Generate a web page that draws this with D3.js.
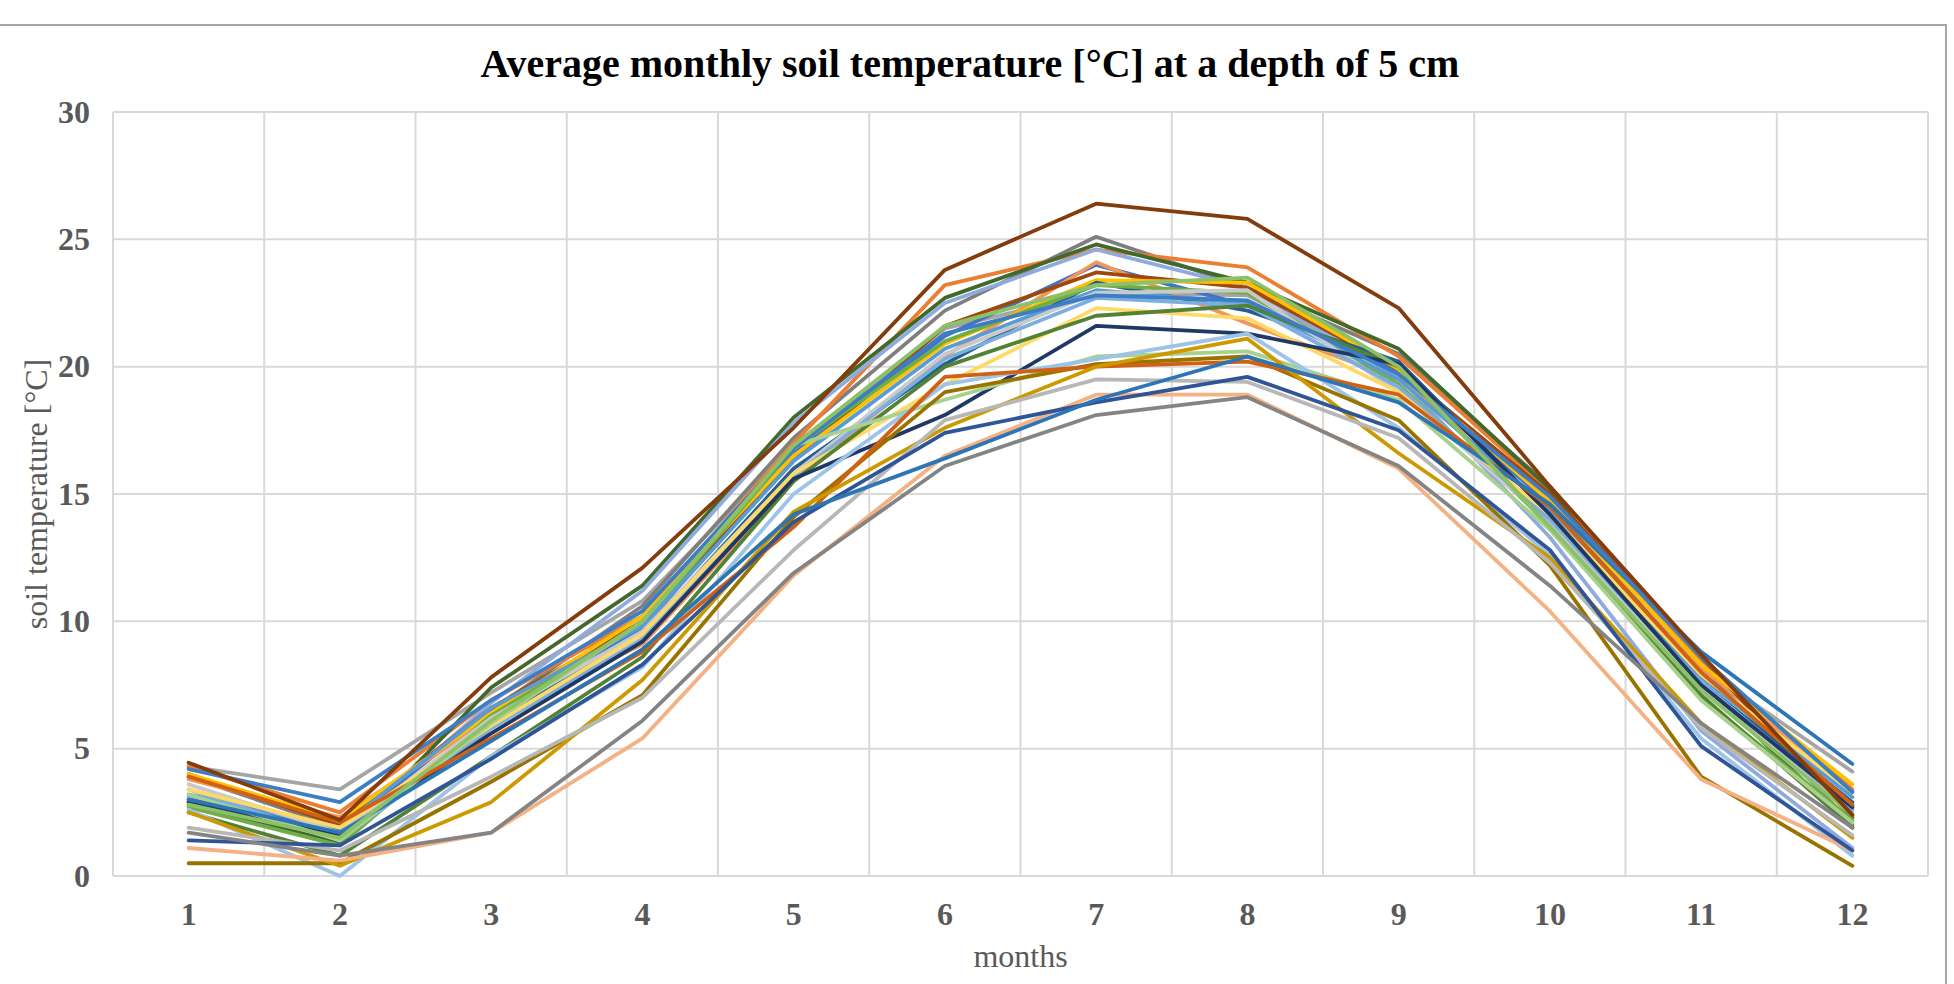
<!DOCTYPE html>
<html>
<head>
<meta charset="utf-8">
<script src="https://cdnjs.cloudflare.com/ajax/libs/d3/7.8.5/d3.min.js"></script>
<style>
  body { margin: 0; background: #fff; }
  svg { display: block; }
</style>
</head>
<body>
<svg id="chart" width="1954" height="984"></svg>
<script>
// months on the x axis
const months = [1, 2, 3, 4, 5, 6, 7, 8, 9, 10, 11, 12];
const yTicks = [0, 5, 10, 15, 20, 25, 30];

// one colour per station line (Excel palette)
const seriesColors = [
  "#A5A5A5", "#7F7F7F", "#ED7D31", "#43682B", "#8FAADC", "#4472C4",
  "#F1975A", "#9E480E", "#FFC000", "#255E91", "#70AD47", "#5B9BD5",
  "#C9C9C9", "#7CAFDD", "#FFD966", "#548235", "#203864", "#A9D18E",
  "#9DC3E6", "#997300", "#D26012", "#CC9A00", "#B7B7B7", "#F4B183",
  "#2F5597", "#848484", "#2E75B6", "#3C7DC4", "#8CC168", "#843C0C"
];

// monthly soil temperature at 5 cm, one array per station
const seriesValues = [
  [4.3, 3.4, 7.2, 10.8, 16.9, 21.5, 22.9, 22.8, 19.8, 15.0, 8.2, 4.1],
  [3.9, 1.9, 6.5, 10.6, 17.2, 22.2, 25.1, 23.1, 20.5, 15.3, 8.3, 2.0],
  [4.3, 2.5, 6.9, 10.2, 17.0, 23.2, 24.6, 23.9, 20.4, 15.1, 8.5, 3.4],
  [2.8, 1.3, 7.4, 11.4, 18.0, 22.7, 24.8, 23.3, 20.7, 15.2, 7.6, 1.9],
  [3.1, 1.6, 6.8, 11.2, 17.8, 22.5, 24.6, 23.1, 19.6, 13.3, 5.7, 1.1],
  [3.0, 1.8, 6.5, 9.7, 16.6, 21.2, 24.0, 22.4, 19.8, 14.6, 8.0, 2.8],
  [3.8, 2.3, 6.2, 9.1, 15.5, 20.4, 24.1, 21.7, 19.5, 14.9, 8.2, 3.3],
  [4.0, 2.0, 6.6, 10.0, 16.3, 21.6, 23.7, 23.1, 19.9, 15.0, 8.6, 2.3],
  [4.0, 2.2, 6.4, 10.2, 16.5, 20.9, 23.4, 23.3, 19.9, 14.7, 8.3, 3.6],
  [2.9, 1.5, 6.0, 9.5, 16.0, 20.1, 23.3, 22.2, 20.2, 14.2, 7.6, 2.9],
  [2.7, 1.2, 6.3, 9.9, 16.8, 21.0, 23.2, 22.9, 19.3, 13.8, 7.0, 2.2],
  [3.2, 1.9, 6.6, 9.8, 16.3, 20.7, 23.0, 22.5, 19.5, 14.4, 7.8, 3.1],
  [3.6, 1.7, 6.2, 9.6, 15.8, 20.5, 22.9, 23.0, 19.0, 13.9, 7.3, 2.5],
  [3.4, 1.4, 5.8, 9.3, 15.7, 20.3, 22.7, 22.4, 19.2, 14.0, 7.6, 2.6],
  [3.4, 1.9, 5.9, 9.5, 15.8, 19.3, 22.3, 21.9, 19.0, 14.2, 7.9, 3.3],
  [2.5, 0.8, 4.7, 8.6, 15.5, 20.0, 22.0, 22.4, 20.0, 13.7, 7.1, 1.9],
  [2.9, 1.6, 5.6, 9.2, 15.6, 18.1, 21.6, 21.3, 20.1, 14.2, 7.5, 2.7],
  [3.2, 1.4, 6.0, 10.0, 16.9, 18.7, 20.4, 20.6, 18.7, 13.6, 6.9, 2.1],
  [2.6, 0.0, 4.7, 8.2, 15.0, 19.3, 20.3, 21.3, 17.6, 12.6, 5.4, 0.8],
  [0.5, 0.5, 3.7, 7.1, 14.1, 19.0, 20.1, 20.4, 17.9, 12.2, 3.9, 0.4],
  [3.9, 2.1, 5.4, 8.8, 13.7, 19.6, 20.0, 20.2, 18.9, 14.5, 8.0, 2.8],
  [2.5, 0.4, 2.9, 7.7, 14.3, 17.6, 20.0, 21.1, 16.6, 12.5, 6.0, 1.5],
  [1.9, 1.0, 3.9, 7.0, 12.8, 17.9, 19.5, 19.4, 17.2, 12.3, 5.8, 1.6],
  [1.1, 0.6, 1.7, 5.4, 11.8, 16.5, 18.9, 18.9, 16.0, 10.4, 3.8, 1.0],
  [1.4, 1.2, 4.6, 8.3, 13.9, 17.4, 18.6, 19.6, 17.5, 12.8, 5.1, 1.0],
  [1.7, 0.8, 1.7, 6.1, 11.9, 16.1, 18.1, 18.8, 16.1, 11.4, 6.0, 1.9],
  [3.0, 1.7, 5.3, 8.9, 14.2, 16.4, 18.7, 20.4, 18.6, 14.6, 8.8, 4.4],
  [4.2, 2.9, 6.9, 10.4, 16.8, 21.3, 22.8, 22.6, 19.7, 14.9, 8.6, 3.3],
  [2.8, 1.5, 6.1, 10.0, 16.9, 21.6, 23.2, 23.5, 20.0, 13.7, 7.3, 2.4],
  [4.45, 2.2, 7.8, 12.1, 17.6, 23.8, 26.4, 25.8, 22.3, 15.3, 8.7, 2.4]
];

const svg = d3.select("#chart");
const margin = { top: 112, right: 26, bottom: 108, left: 113 };
const width = 1954 - margin.left - margin.right;
const height = 984 - margin.top - margin.bottom;

// chart area border (only top and right edges fall inside the picture)
svg.append("rect")
  .attr("x", -10).attr("y", 25)
  .attr("width", 1956).attr("height", 1000)
  .attr("fill", "none")
  .attr("stroke", "#a6a6a6")
  .attr("stroke-width", 2);

const g = svg.append("g").attr("transform", "translate(" + margin.left + "," + margin.top + ")");

const x = d3.scaleBand().domain(months).range([0, width]).padding(0);
const y = d3.scaleLinear().domain([0, 30]).range([height, 0]);
const xc = m => x(m) + x.bandwidth() / 2;

// gridlines
g.append("g").selectAll("line")
  .data(yTicks)
  .enter().append("line")
  .attr("x1", 0).attr("x2", width)
  .attr("y1", d => y(d)).attr("y2", d => y(d))
  .attr("stroke", "#d9d9d9").attr("stroke-width", 2);

g.append("g").selectAll("line")
  .data(months.map(m => x(m)).concat([width]))
  .enter().append("line")
  .attr("x1", d => d).attr("x2", d => d)
  .attr("y1", 0).attr("y2", height)
  .attr("stroke", "#d9d9d9").attr("stroke-width", 2);

// y axis labels
const yAxis = g.append("g")
  .call(d3.axisLeft(y).tickValues(yTicks).tickSize(0).tickPadding(23));
yAxis.select(".domain").remove();
yAxis.selectAll("text")
  .attr("font-family", "'Liberation Serif', 'Times New Roman', serif")
  .attr("font-size", 32).attr("font-weight", "bold").attr("fill", "#595959");

// x axis labels
const xAxis = g.append("g")
  .attr("transform", "translate(0," + height + ")")
  .call(d3.axisBottom(x).tickSize(0).tickPadding(26));
xAxis.select(".domain").remove();
xAxis.selectAll("text")
  .attr("font-family", "'Liberation Serif', 'Times New Roman', serif")
  .attr("font-size", 32).attr("font-weight", "bold").attr("fill", "#595959");

// lines
const line = d3.line()
  .x((d, i) => xc(months[i]))
  .y(d => y(d));

g.append("g").selectAll("path")
  .data(seriesValues)
  .enter().append("path")
  .attr("d", d => line(d))
  .attr("fill", "none")
  .attr("stroke", (d, i) => seriesColors[i])
  .attr("stroke-width", 3.8)
  .attr("stroke-linejoin", "round")
  .attr("stroke-linecap", "round");

// title
svg.append("text")
  .attr("x", 970).attr("y", 77)
  .attr("text-anchor", "middle")
  .attr("font-family", "'Liberation Serif', 'Times New Roman', serif")
  .attr("font-size", 40).attr("font-weight", "bold").attr("fill", "#000")
  .text("Average monthly soil temperature [°C] at a depth of 5 cm");

// axis titles
svg.append("text")
  .attr("x", margin.left + width / 2).attr("y", 967)
  .attr("text-anchor", "middle")
  .attr("font-family", "'Liberation Serif', 'Times New Roman', serif")
  .attr("font-size", 32).attr("fill", "#595959")
  .text("months");

svg.append("text")
  .attr("transform", "translate(47," + (margin.top + height / 2) + ") rotate(-90)")
  .attr("text-anchor", "middle")
  .attr("font-family", "'Liberation Serif', 'Times New Roman', serif")
  .attr("font-size", 32).attr("fill", "#595959")
  .text("soil temperature [°C]");
</script>
</body>
</html>
